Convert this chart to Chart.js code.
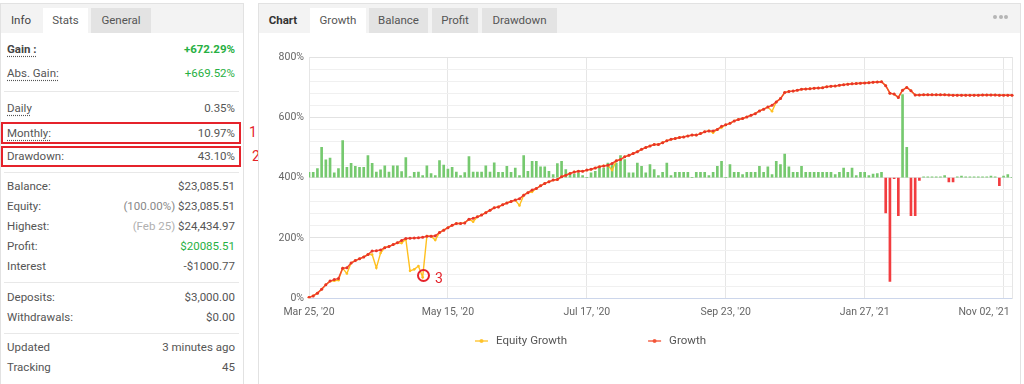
<!DOCTYPE html>
<html>
<head>
<meta charset="utf-8">
<script src="https://cdn.jsdelivr.net/npm/chart.js@4.4.1/dist/chart.umd.min.js"></script>
<style>
  html, body { margin:0; padding:0; background:#fff; }
  body { width:1024px; height:384px; overflow:hidden; position:relative; font-family: Roboto, "Open Sans", "Liberation Sans", sans-serif; }
  .panel { position:absolute; border:1px solid #e2e2e2; box-sizing:border-box; background:#fff; }
  .hdr { position:absolute; background:#f3f3f3; }
  .tab { position:absolute; top:8px; height:25px; line-height:25px; font-size:11.5px; color:#555; text-align:center; background:#e3e3e3; }
  .tab.on { background:#fff; }
  .lbl { position:absolute; left:7px; font-size:11.5px; color:#555; line-height:16px; height:16px; white-space:nowrap; }
  .val { position:absolute; right:789px; font-size:11.5px; color:#555; line-height:16px; height:16px; white-space:nowrap; text-align:right; }
  .dot { text-decoration: underline dotted #555; text-underline-offset: 3px; }
  .sep { position:absolute; left:4px; width:235px; height:1px; background:#e8e8e8; }
  .green { color:#27b043; }
  .lite { color:#888; }
  .lite2 { color:#b0b0b0; }
  .redbox { position:absolute; border:2px solid #e5232b; box-sizing:border-box; }
  .ann { position:absolute; color:#e5232b; font-size:14px; line-height:16px; }
  .dots { position:absolute; top:15px; width:4px; height:4px; border-radius:50%; background:#b5b5b5; }
</style>
</head>
<body>
<!-- left stats panel -->
<div class="panel" style="left:0;top:3px;width:244px;height:390px;"></div>
<div class="hdr" style="left:1px;top:4px;width:242px;height:29px;"></div>
<div class="tab" style="left:1px;width:40px;background:transparent;color:#444;">Info</div>
<div class="tab on" style="left:43px;width:45px;">Stats</div>
<div class="tab" style="left:91px;width:60px;">General</div>

<div class="lbl" style="top:41px;"><span class="dot" style="font-weight:bold;color:#444;">Gain :</span></div>
<div class="val green" style="top:41px;font-weight:bold;">+672.29%</div>
<div class="lbl" style="top:65px;"><span class="dot">Abs. Gain:</span></div>
<div class="val green" style="top:65px;">+669.52%</div>
<div class="sep" style="top:91px;"></div>
<div class="lbl" style="top:100px;"><span class="dot">Daily</span></div>
<div class="val" style="top:100px;">0.35%</div>
<div class="lbl" style="top:125px;"><span class="dot">Monthly:</span></div>
<div class="val" style="top:125px;">10.97%</div>
<div class="lbl" style="top:148px;">Drawdown:</div>
<div class="val" style="top:148px;">43.10%</div>
<div class="sep" style="top:172px;"></div>
<div class="lbl" style="top:178px;">Balance:</div>
<div class="val" style="top:178px;">$23,085.51</div>
<div class="lbl" style="top:198px;">Equity:</div>
<div class="val" style="top:198px;"><span class="lite">(100.00%)</span> $23,085.51</div>
<div class="lbl" style="top:218px;">Highest:</div>
<div class="val" style="top:218px;"><span class="lite2">(Feb 25)</span> $24,434.97</div>
<div class="lbl" style="top:238px;">Profit:</div>
<div class="val green" style="top:238px;">$20085.51</div>
<div class="lbl" style="top:258px;">Interest</div>
<div class="val" style="top:258px;">-$1000.77</div>
<div class="sep" style="top:282px;"></div>
<div class="lbl" style="top:289px;">Deposits:</div>
<div class="val" style="top:289px;">$3,000.00</div>
<div class="lbl" style="top:309px;">Withdrawals:</div>
<div class="val" style="top:309px;">$0.00</div>
<div class="sep" style="top:333px;"></div>
<div class="lbl" style="top:339px;">Updated</div>
<div class="val" style="top:339px;">3 minutes ago</div>
<div class="lbl" style="top:359px;">Tracking</div>
<div class="val" style="top:359px;">45</div>

<div class="redbox" style="left:1px;top:122px;width:240px;height:22px;"></div>
<div class="redbox" style="left:1px;top:146px;width:240px;height:21px;"></div>
<div class="ann" style="left:249px;top:124px;">1</div>
<div class="ann" style="left:252px;top:148px;">2</div>

<!-- right chart panel -->
<div class="panel" style="left:258px;top:3px;width:763px;height:390px;"></div>
<div class="hdr" style="left:259px;top:4px;width:761px;height:29px;"></div>
<div class="tab" style="left:262px;width:42px;background:transparent;color:#333;font-weight:bold;">Chart</div>
<div class="tab on" style="left:310px;width:56px;">Growth</div>
<div class="tab" style="left:369px;width:59px;">Balance</div>
<div class="tab" style="left:432px;width:46px;">Profit</div>
<div class="tab" style="left:482px;width:75px;">Drawdown</div>
<div class="dots" style="left:993px;"></div>
<div class="dots" style="left:998.5px;"></div>
<div class="dots" style="left:1004px;"></div>

<div style="position:absolute;left:258px;top:40px;width:762px;height:340px;">
  <canvas id="c" width="762" height="340"></canvas>
</div>

<div style="position:absolute;left:417px;top:269px;width:13px;height:13px;border:2px solid #e5232b;border-radius:50%;box-sizing:border-box;"></div>
<div class="ann" style="left:435px;top:270px;">3</div>

<script>
// ---- data ----
const tickLabels = ["Mar 25, '20", "May 15, '20", "Jul 17, '20", "Sep 23, '20", "Jan 27, '21", "Nov 02, '21"];
const tickPositions = [0, 33, 66, 99, 132, 165];
const yLabelStep = 200;

const growth = [
  3, 8, 17, 30, 45, 57, 62, 66, 100, 101,
  117, 125, 131, 137, 145, 157, 158, 160, 168, 172,
  178, 184, 192, 198, 199, 200, 201, 202, 206, 206,
  207, 218, 226, 234, 242, 248, 248, 250, 262, 265,
  270, 276, 284, 292, 300, 303, 310, 316, 321, 326,
  330, 342, 350, 359, 364, 373, 381, 386, 392, 394,
  403, 408, 414, 419, 421, 421, 425, 428, 432, 436,
  439, 441, 447, 456, 460, 469, 474, 480, 486, 494,
  500, 505, 510, 510, 516, 522, 527, 530, 533, 535,
  538, 541, 541, 546, 552, 555, 555, 560, 570, 575,
  580, 588, 593, 596, 601, 607, 612, 621, 627, 634,
  640, 651, 662, 682, 686, 687, 690, 693, 694, 695,
  696, 697, 698, 701, 703, 704, 706, 708, 710, 711,
  712, 713, 714, 715, 716, 717, 718, 705, 680, 677,
  666, 690, 699, 688, 674, 674, 675, 675, 675, 675,
  675, 675, 674, 673, 673, 673, 673, 673, 673, 673,
  674, 674, 674, 674, 673, 673, 673, 673
];

const equityGrowth = [
  3, 8, 17, 30, 45, 57, 58, 60, 100, 82,
  117, 125, 131, 137, 145, 145, 101, 150, 168, 172,
  178, 184, 183, 196, 91, 96, 107, 70, 206, 206,
  193, 218, 226, 234, 242, 248, 248, 250, 262, 254,
  270, 276, 284, 292, 300, 303, 310, 316, 321, 326,
  308, 342, 350, 353, 364, 373, 381, 386, 392, 394,
  403, 408, 414, 419, 421, 421, 425, 428, 432, 436,
  439, 441, 425, 456, 460, 469, 474, 480, 486, 494,
  500, 505, 510, 510, 516, 522, 527, 530, 533, 535,
  538, 541, 541, 546, 552, 555, 549, 560, 566, 575,
  580, 588, 593, 596, 601, 607, 612, 621, 627, 634,
  620, 651, 662, 682, 686, 687, 690, 693, 694, 695,
  696, 697, 698, 701, 703, 704, 706, 708, 710, 711,
  712, 713, 714, 715, 716, 717, 718, 705, 680, 677,
  666, 690, 699, 688, 674, 674, 675, 675, 675, 675,
  675, 675, 674, 673, 673, 673, 673, 673, 673, 673,
  674, 674, 674, 674, 673, 673, 673, 673
];

const dailyGain = [
  0.44, 0.44, 0.75, 2.52, 1.47, 1.63, 0.39, 0.75, 3.07, 0.86,
  1.19, 0.94, 0.86, 0.86, 1.83, 1.19, 0.47, 0.64, 0.97, 0.47,
  0.97, 0.97, 0.5, 1.66, 0.08, 0.44, 0.47, 0.17, 0.97, 0.33,
  0.17, 1.41, 1.05, 0.72, 0.86, 0.47, 0.17, 0.41, 1.74, 0.47,
  0.47, 0.47, 0.97, 0.47,
  1.22, 0.44, 0.44, 0.94, 0.44, 0.8, 0.17, 1.83, 0.53, 1.36,
  1.36, 0.89, 0.89, 0.53, 0.25, 1.16, 1.36, 0.66, 0.3, 0.3,
  0.4, 0.17, 0, 0.4, 0.53, 0.8, 0.8, 1.2, 1.1, 1.2,
  1.83, 1.5, 0.4, 0.4, 1.2, 0.94, 0.4, 1.08, 0.66, 0.17,
  0.44, 1.2, 0.17, 0.44, 0.44, 0.44,
  0.44, 0, 0.44, 0.44, 0.44, 0.17, 0.44, 0.94, 1.36, 0,
  1.08, 0.44, 0.44, 0.25, 0.44, 0.44, 0.44, 0.94, 0.44, 0.89,
  0.25, 1.36, 1.08, 1.96, 0.89, 0.44, 0.44, 0.94, 0.44, 0.44,
  0.44, 0.44, 0.44, 0.44, 0.44, 0.25, 0.44, 0.8, 0.44, 0.8,
  0.17, 0.44, 0.44, 0.17, 0.3, 0.33, 0.44,
  -2.93, -8.6, -0.08, -3.15, 6.89, 2.52, -3.15, -3.15, -0.22, 0.07,
  0.07, 0.07, 0.07, 0.07, 0.17, -0.36, -0.36, 0.07, 0.14, 0.07,
  0.07, 0.07, 0.07, 0.07, 0.07, 0.12, 0.07, -0.66, 0.14, 0.25,
  0
];

const categories = growth.map((_, i) => i);

// ---- styles ----
const RED = '#f24a2c';
const YELLOW = '#ffc01f';
const GREEN_BAR = '#76c96f';
const RED_BAR = '#f23c3f';
const TICK_FONT = { family: 'Roboto', size: 10.5 };

const customLegend = {
  id: 'customLegend',
  afterDraw(chart, args, opts) {
    const ctx = chart.ctx;
    ctx.save();
    ctx.font = '11.5px Roboto';
    const items = chart.data.datasets.filter(d => d.type === 'line');
    const mark = 13, gapText = 8, gapItem = 81;
    const widths = items.map(d => mark + gapText + ctx.measureText(d.label).width);
    const total = widths.reduce((a, b) => a + b, 0) + gapItem * (items.length - 1);
    let x = opts.centerX - total / 2;
    const y = opts.y;
    items.forEach((d, i) => {
      ctx.globalAlpha = 0.85;
      ctx.strokeStyle = d.borderColor;
      ctx.lineWidth = 1.5;
      ctx.beginPath(); ctx.moveTo(x, y); ctx.lineTo(x + mark, y); ctx.stroke();
      ctx.fillStyle = d.borderColor;
      ctx.beginPath(); ctx.arc(x + mark / 2, y, 2, 0, Math.PI * 2); ctx.fill();
      ctx.globalAlpha = 1;
      ctx.fillStyle = '#555';
      ctx.textBaseline = 'middle';
      ctx.textAlign = 'left';
      ctx.fillText(d.label, x + mark + gapText, y);
      x += widths[i] + gapItem;
    });
    ctx.restore();
  }
};

const labelNudge = {
  id: 'labelNudge',
  beforeDraw(chart) {
    const s = chart.scales.x;
    if (!s || typeof s.getLabelItems !== 'function') return;
    const items = s.getLabelItems();
    if (!items || !items.length) return;
    items[0].options.textAlign = 'center';
    items[items.length - 1].options.translation[0] += 6;
  }
};

new Chart(document.getElementById('c'), {
  data: {
    labels: categories,
    datasets: [
      {
        type: 'bar', label: 'Daily Gain', data: dailyGain, yAxisID: 'y2',
        backgroundColor: dailyGain.map(v => v < 0 ? RED_BAR : GREEN_BAR),
        barThickness: 2, order: 3
      },
      {
        type: 'line', label: 'Equity Growth', data: equityGrowth, yAxisID: 'y',
        borderColor: YELLOW, backgroundColor: YELLOW, borderWidth: 1.4,
        pointRadius: 1.3, pointBorderWidth: 0, pointBackgroundColor: YELLOW,
        tension: 0, order: 2
      },
      {
        type: 'line', label: 'Growth', data: growth, yAxisID: 'y',
        borderColor: RED, backgroundColor: RED, borderWidth: 1.5,
        pointRadius: 1.5, pointBorderWidth: 0, pointBackgroundColor: '#e8342a',
        tension: 0, order: 1
      }
    ]
  },
  options: {
    responsive: false,
    animation: false,
    devicePixelRatio: 1,
    layout: { padding: { left: 0, right: 8, top: 17, bottom: 54.7 } },
    plugins: {
      legend: { display: false },
      tooltip: { enabled: false },
      customLegend: { centerX: 332.5, y: 301 }
    },
    scales: {
      x: {
        type: 'category',
        offset: false,
        grid: { offset: false, color: '#e6e6e6', drawTicks: false },
        border: { color: '#ccd6eb' },
        ticks: {
          autoSkip: false, maxRotation: 0, minRotation: 0, padding: 8, align: 'inner',
          color: '#666', font: TICK_FONT,
          callback: (v, i) => tickLabels[i]
        },
        afterBuildTicks: s => { s.ticks = tickPositions.map(v => ({ value: v })); },
        afterFit: s => { s.height = 27; }
      },
      y: {
        position: 'left', min: 0, max: 800,
        ticks: {
          stepSize: 40, autoSkip: false, padding: 5, color: '#666', font: TICK_FONT,
          callback: v => (v % yLabelStep === 0 ? v + '%' : '')
        },
        grid: {
          drawTicks: false,
          color: c => (c.tick.value === 0 ? '#ccd6eb' : (c.tick.value % yLabelStep === 0 ? '#e2e2e2' : '#f0f0f0'))
        },
        border: { color: '#e6e6e6' },
        afterFit: s => { s.width = 51; }
      },
      y2: {
        position: 'right', min: -10, max: 10,
        ticks: { display: false },
        grid: { drawOnChartArea: false, drawTicks: false },
        border: { color: '#e6e6e6' },
        afterFit: s => { s.width = 0; }
      }
    }
  },
  plugins: [customLegend, labelNudge]
});
</script>
</body>
</html>
